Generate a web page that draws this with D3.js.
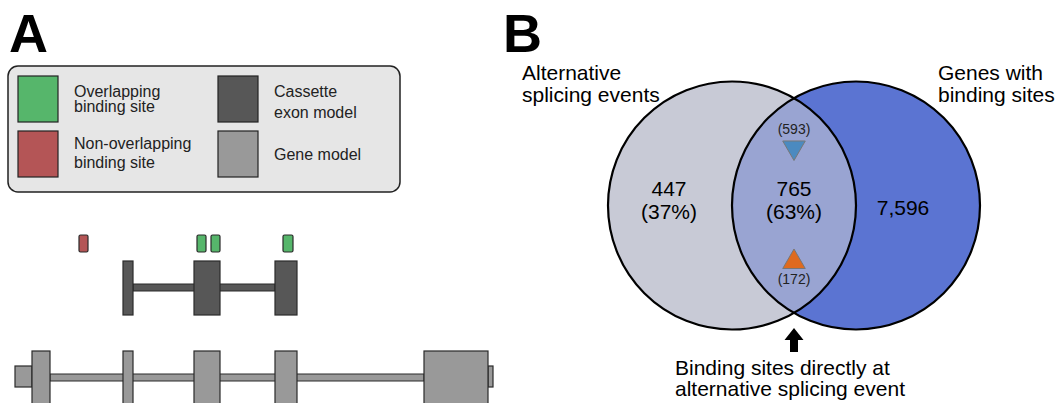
<!DOCTYPE html>
<html>
<head>
<meta charset="utf-8">
<script src="https://cdn.jsdelivr.net/npm/d3@7"></script>
<style>
  body { margin: 0; background: #fff; }
  svg { font-family: "Liberation Sans", Arial, sans-serif; }
</style>
</head>
<body>
<div id="chart"></div>
<script>
// Panel A: legend
const legendItems = [
    { label: ["Overlapping", "binding site"], color: "#56b66b", col: 0, row: 0 },
    { label: ["Non-overlapping", "binding site"], color: "#b45556", col: 0, row: 1 },
    { label: ["Cassette", "exon model"], color: "#575757", col: 1, row: 0 },
    { label: ["Gene model"], color: "#999999", col: 1, row: 1 }
];

// Panel A: gene coordinates (arbitrary units along the gene)
const bindingSites = [
    { start: 64, end: 73, overlap: false },
    { start: 182, end: 191, overlap: true },
    { start: 196, end: 205, overlap: true },
    { start: 268, end: 278, overlap: true }
];
const cassetteExons = [[108, 118], [179, 205], [260, 282]];
const geneExons = [[17, 35], [108, 118], [179, 205], [260, 282], [409, 473]];
const geneUtrs = [[0, 17], [473, 478]];

// Panel B: Venn counts
const vennSets = [["Alternative", "splicing events"], ["Genes with", "binding sites"]];
const vennCounts = [447, 765, 7596];
const vennPercents = [37, 63];
const subCounts = [593, 172];

const width = 1061, height = 403;
const svg = d3.select("#chart").append("svg")
    .attr("width", width)
    .attr("height", height);

// panel letters
svg.append("text").attr("x", 9).attr("y", 52).text("A")
    .attr("font-size", 54).attr("font-weight", "bold");
svg.append("text").attr("x", 503).attr("y", 52).text("B")
    .attr("font-size", 54).attr("font-weight", "bold");

// ---- legend box
const lg = svg.append("g").attr("transform", "translate(8,66)");
lg.append("rect").attr("width", 392).attr("height", 126).attr("rx", 10)
    .attr("fill", "#e6e6e6").attr("stroke", "#222").attr("stroke-width", 1.5);

const colX = d3.scaleOrdinal().domain([0, 1]).range([10, 210]);
const rowY = d3.scaleOrdinal().domain([0, 1]).range([10, 65]);

const item = lg.selectAll(".item").data(legendItems).enter().append("g")
    .attr("transform", d => `translate(${colX(d.col)},${rowY(d.row)})`);
item.append("rect").attr("width", 40).attr("height", 46)
    .attr("fill", d => d.color).attr("stroke", "#222").attr("stroke-width", 1.2);
item.each(function(d) {
    const g = d3.select(this);
    const gap = d.row === 0 ? (d.col === 0 ? 15 : 21) : 19;
    const y0 = d.label.length === 1 ? 29 : (d.row === 0 ? 21 : 18);
    d.label.forEach((t, i) => {
        g.append("text").attr("x", 56).attr("y", y0 + i * gap)
            .attr("font-size", 16).attr("fill", "#222").text(t);
    });
});

// ---- gene diagrams
const x = d3.scaleLinear().domain([0, 478]).range([15, 493]);
const stroke = "#2a2a2a";

svg.selectAll(".site").data(bindingSites).enter().append("rect")
    .attr("x", d => x(d.start)).attr("width", d => x(d.end) - x(d.start))
    .attr("y", 235).attr("height", 17).attr("rx", 1.5)
    .attr("fill", d => d.overlap ? "#56b66b" : "#b45556")
    .attr("stroke", stroke).attr("stroke-width", 1.2);

// cassette model
const cas = svg.append("g");
cas.append("rect")
    .attr("x", x(cassetteExons[0][1])).attr("width", x(cassetteExons[2][0]) - x(cassetteExons[0][1]))
    .attr("y", 284).attr("height", 7)
    .attr("fill", "#575757").attr("stroke", stroke).attr("stroke-width", 1);
cas.selectAll(".exon").data(cassetteExons).enter().append("rect")
    .attr("x", d => x(d[0])).attr("width", d => x(d[1]) - x(d[0]))
    .attr("y", 261).attr("height", 54)
    .attr("fill", "#575757").attr("stroke", stroke).attr("stroke-width", 1.2);

// gene model
const gm = svg.append("g");
gm.append("rect")
    .attr("x", x(geneExons[0][1])).attr("width", x(geneExons[4][0]) - x(geneExons[0][1]))
    .attr("y", 374).attr("height", 7)
    .attr("fill", "#999").attr("stroke", stroke).attr("stroke-width", 1);
gm.selectAll(".utr").data(geneUtrs).enter().append("rect")
    .attr("x", d => x(d[0])).attr("width", d => x(d[1]) - x(d[0]))
    .attr("y", 366).attr("height", 21)
    .attr("fill", "#999").attr("stroke", stroke).attr("stroke-width", 1.2);
gm.selectAll(".exon").data(geneExons).enter().append("rect")
    .attr("x", d => x(d[0])).attr("width", d => x(d[1]) - x(d[0]))
    .attr("y", 351).attr("height", 70)
    .attr("fill", "#999").attr("stroke", stroke).attr("stroke-width", 1.2);

// ---- Venn diagram
const r = 124, cy = 205.5;
const cx = [732, 856];
const v = svg.append("g");
v.append("defs").append("clipPath").attr("id", "clipL")
    .append("circle").attr("cx", cx[0]).attr("cy", cy).attr("r", r);
v.append("circle").attr("cx", cx[0]).attr("cy", cy).attr("r", r).attr("fill", "#c8cad6");
v.append("circle").attr("cx", cx[1]).attr("cy", cy).attr("r", r).attr("fill", "#5b74d2");
v.append("circle").attr("cx", cx[1]).attr("cy", cy).attr("r", r).attr("fill", "#99a4d2")
    .attr("clip-path", "url(#clipL)");
v.selectAll(".ring").data(cx).enter().append("circle")
    .attr("cx", d => d).attr("cy", cy).attr("r", r)
    .attr("fill", "none").attr("stroke", "#000").attr("stroke-width", 2.2);

const fmt = d3.format(",");
const mid = (cx[0] + cx[1]) / 2;
const labelFont = 21;

// set labels
const setX = [522, 938];
vennSets.forEach((lines, i) => {
    lines.forEach((t, j) => {
        v.append("text").attr("x", setX[i]).attr("y", 80 + j * 22)
            .attr("font-size", labelFont).text(t);
    });
});

// counts: number on one line, share below it
const countX = [669, mid];
[0, 1].forEach(i => {
    v.append("text").attr("x", countX[i]).attr("y", 196).attr("text-anchor", "middle")
        .attr("font-size", labelFont).text(fmt(vennCounts[i]));
    v.append("text").attr("x", countX[i]).attr("y", 219).attr("text-anchor", "middle")
        .attr("font-size", labelFont).text(`(${vennPercents[i]}%)`);
});
v.append("text").attr("x", 903).attr("y", 215).attr("text-anchor", "middle")
    .attr("font-size", labelFont).text(fmt(vennCounts[2]));

// sub counts with triangles
v.append("text").attr("x", mid).attr("y", 134).attr("text-anchor", "middle")
    .attr("font-size", 14).attr("fill", "#222").text(`(${subCounts[0]})`);
v.append("path")
    .attr("d", d3.symbol().type(d3.symbolTriangle).size(220))
    .attr("transform", `translate(${mid},147.5) rotate(180)`)
    .attr("fill", "#4b8ac0").attr("stroke", "#777").attr("stroke-width", 1);
v.append("path")
    .attr("d", d3.symbol().type(d3.symbolTriangle).size(220))
    .attr("transform", `translate(${mid},262)`)
    .attr("fill", "#df6a1f").attr("stroke", "#777").attr("stroke-width", 1);
v.append("text").attr("x", mid).attr("y", 284).attr("text-anchor", "middle")
    .attr("font-size", 14).attr("fill", "#222").text(`(${subCounts[1]})`);

// arrow
v.append("path")
    .attr("d", `M${mid},328 L${mid + 9.5},340 L${mid + 4},340 L${mid + 4},352 L${mid - 4},352 L${mid - 4},340 L${mid - 9.5},340 Z`)
    .attr("fill", "#000");
v.append("text").attr("x", 675).attr("y", 375).attr("font-size", labelFont)
    .text("Binding sites directly at");
v.append("text").attr("x", 675).attr("y", 396).attr("font-size", labelFont)
    .text("alternative splicing event");
</script>
</body>
</html>
